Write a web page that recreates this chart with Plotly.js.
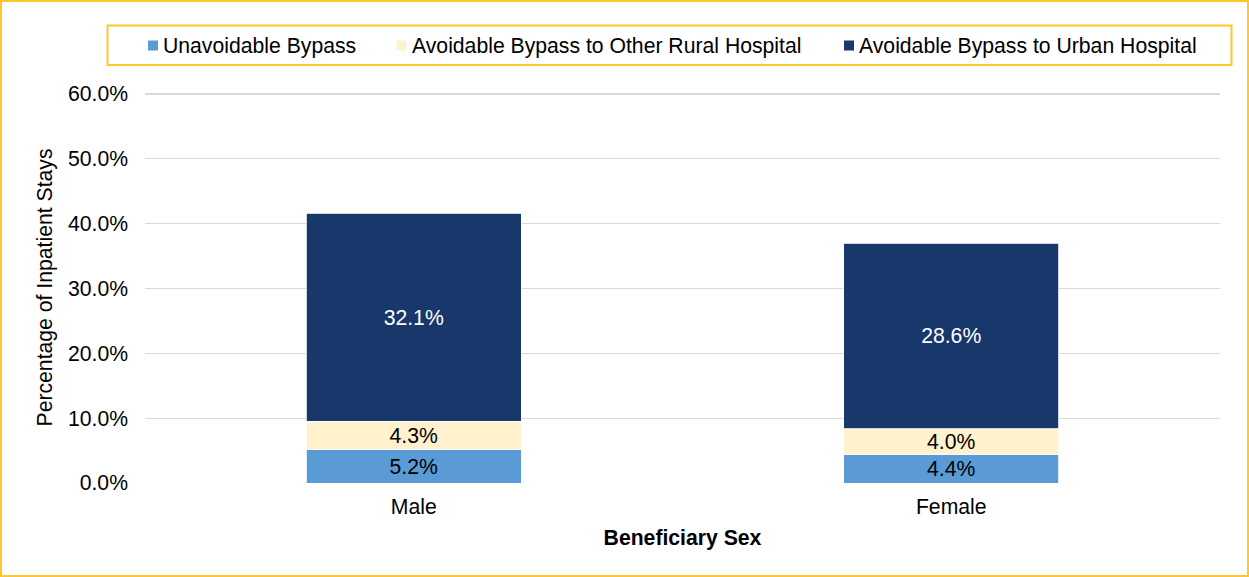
<!DOCTYPE html>
<html>
<head>
<meta charset="utf-8">
<script src="https://cdn.plot.ly/plotly-3.0.1.min.js"></script>
<style>
  html, body { margin: 0; padding: 0; background: #ffffff; }
  #chart { width: 1249px; height: 577px; }
</style>
</head>
<body>
<div id="chart"></div>
<script>
// ---- Data ----
var categories = ["Male", "Female"];
var seriesNames = ["Unavoidable Bypass", "Avoidable Bypass to Other Rural Hospital", "Avoidable Bypass to Urban Hospital"];
var unavoidable = [5.2, 4.4];
var avoidableRural = [4.3, 4.0];
var avoidableUrban = [32.1, 28.6];
var yTickValues = [0, 10, 20, 30, 40, 50, 60];
var xAxisTitle = "Beneficiary Sex";
var yAxisTitle = "Percentage of Inpatient Stays";

// ---- Styles ----
var colors = ["#5B9BD5", "#FFF2CC", "#18376B"];
var textColors = ["#000000", "#000000", "#FFFFFF"];
var FONT = "Liberation Sans, Arial, sans-serif";
var FS = 21.2;
var GOLD = "#FFC62F";

var seriesValues = [unavoidable, avoidableRural, avoidableUrban];

var traces = seriesValues.map(function (vals, i) {
  return {
    type: "bar",
    name: seriesNames[i],
    x: categories,
    y: vals,
    marker: { color: colors[i], line: { color: "#FFFFFF", width: 0.8 } },
    text: vals.map(function (v) { return v.toFixed(1) + "%"; }),
    textposition: "inside",
    insidetextanchor: "middle",
    textangle: 0,
    constraintext: "none",
    textfont: { family: FONT, size: FS, color: textColors[i] },
    hoverinfo: "x+y+name",
    showlegend: false
  };
});

// plot area in pixels (top slightly above the 60% line so its gridline is drawn)
var L = 145, R = 1220, T = 92, B = 483;
function px(x) { return (x - L) / (R - L); }
function py(y) { return (B - y) / (B - T); }

var shapes = [
  // outer border
  { type: "rect", xref: "paper", yref: "paper", x0: px(1), x1: px(1248), y0: py(576), y1: py(1),
    line: { color: GOLD, width: 2 }, fillcolor: "rgba(0,0,0,0)", layer: "below" },
  // legend box
  { type: "rect", xref: "paper", yref: "paper", x0: px(107.5), x1: px(1231.5), y0: py(65), y1: py(25.5),
    line: { color: GOLD, width: 2 }, fillcolor: "rgba(0,0,0,0)" }
];
var annotations = [];
var legendMarkerX = [153, 401.5, 849];
var legendTextX = [161, 410, 857];
var legendY = 45.5;
seriesNames.forEach(function (n, i) {
  shapes.push({ type: "rect", xref: "paper", yref: "paper",
    x0: px(legendMarkerX[i] - 5), x1: px(legendMarkerX[i] + 5),
    y0: py(legendY + 5), y1: py(legendY - 5),
    line: { width: 0 }, fillcolor: colors[i] });
  annotations.push({ xref: "paper", yref: "paper", x: px(legendTextX[i]), y: py(legendY),
    xanchor: "left", yanchor: "middle", showarrow: false, text: n,
    font: { family: FONT, size: FS, color: "#000000" } });
});

var layout = {
  width: 1249,
  height: 577,
  margin: { l: L, r: 1249 - R, t: T, b: 577 - B, pad: 0 },
  paper_bgcolor: "#FFFFFF",
  plot_bgcolor: "#FFFFFF",
  barmode: "stack",
  bargap: 0.6,
  showlegend: false,
  font: { family: FONT, size: FS, color: "#000000" },
  xaxis: {
    type: "category",
    range: [-0.5, 1.5],
    showgrid: false,
    zeroline: false,
    showline: false,
    ticks: "",
    ticklabelstandoff: 9,
    tickfont: { family: FONT, size: FS, color: "#000000" },
    title: { text: "<b>" + xAxisTitle + "</b>", font: { family: FONT, size: FS, color: "#000000" }, standoff: 12 }
  },
  yaxis: {
    range: [0, 60.3],
    tickvals: yTickValues,
    ticktext: yTickValues.map(function (v) { return v.toFixed(1) + "%"; }),
    showgrid: true,
    gridcolor: "#D9D9D9",
    gridwidth: 1.3,
    zeroline: false,
    showline: false,
    ticks: "",
    ticklabelstandoff: 16,
    tickfont: { family: FONT, size: FS, color: "#000000" },
    title: { text: yAxisTitle, font: { family: FONT, size: FS, color: "#000000" }, standoff: 9 }
  },
  shapes: shapes,
  annotations: annotations
};

Plotly.newPlot("chart", traces, layout, { displayModeBar: false, staticPlot: true });
</script>
</body>
</html>
